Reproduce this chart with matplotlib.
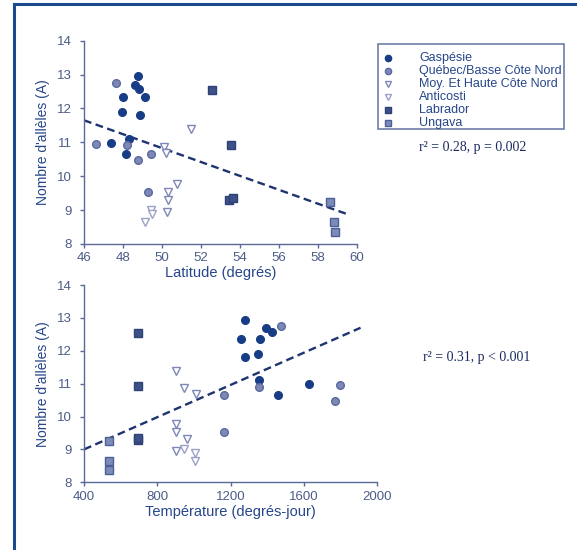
import numpy as np
import matplotlib
matplotlib.use("Agg")
import matplotlib.pyplot as plt
from matplotlib.lines import Line2D
from matplotlib.patches import Rectangle

# Valeurs
gasp_a = [10.98, 12.35, 11.90, 10.65, 11.10, 12.70, 12.95, 12.57, 11.82, 12.35]
gasp_lat = [47.40, 48.00, 47.96, 48.14, 48.33, 48.63, 48.77, 48.84, 48.85, 49.11]
gasp_temp = [1630, 1360, 1350, 1462, 1356, 1393, 1278, 1429, 1278, 1260]

queb_a = [10.95, 12.75, 10.91, 10.47, 10.65, 9.54]
queb_lat = [46.64, 47.64, 48.23, 48.76, 49.41, 49.27]
queb_temp = [1796, 1473, 1356, 1771, 1165, 1165]

moy_a = [11.38, 10.87, 10.70, 9.78, 9.54, 9.31, 8.95]
moy_lat = [51.51, 50.11, 50.19, 50.78, 50.30, 50.30, 50.24]
moy_temp = [900, 945, 1009, 900, 900, 964, 900]

anti_a = [9.00, 8.88, 8.66]
anti_lat = [49.43, 49.47, 49.12]
anti_temp = [945, 1004, 1004]

labr_a = [12.55, 10.92, 9.30, 9.35]
labr_lat = [52.58, 53.54, 53.43, 53.62]
labr_temp = [696, 696, 696, 696]

ung_a = [9.25, 8.66, 8.36]
ung_lat = [58.64, 58.84, 58.88]
ung_temp = [536, 536, 536]

labels = ["Gaspésie", "Québec/Basse Côte Nord", "Moy. Et Haute Côte Nord",
          "Anticosti", "Labrador", "Ungava"]

# droites de régression (pente, ordonnée)
lat_fit = (-0.2052, 21.09)
temp_fit = (0.00245, 8.02)
lat_fit_range = [46, 59.5]
temp_fit_range = [400, 1910]
stats = ["r\u00b2 = 0.28, p = 0.002", "r\u00b2 = 0.31, p < 0.001"]

# styles des populations
styles = [
    dict(marker="o", mfc="#173d86", mec="#173d86"),
    dict(marker="o", mfc="#7d88b4", mec="#5a68a0"),
    dict(marker="v", mfc="white", mec="#7f86b8"),
    dict(marker="v", mfc="white", mec="#9aa0c8"),
    dict(marker="s", mfc="#3d5189", mec="#2e4278"),
    dict(marker="s", mfc="#7c8cb8", mec="#4d5f98"),
]

plt.rcParams["font.family"] = ["Liberation Sans", "DejaVu Sans"]
navy = "#26468a"
tickcol = "#4d5c88"
spinecol = "#5a6a98"
linecol = "#1e3470"

fig = plt.figure(figsize=(5.77, 5.5), dpi=100)
fig.patch.set_facecolor("white")

# cadre (seulement haut et gauche visibles)
fig.add_artist(Line2D([14 / 577, 14 / 577], [0, 1 - 4 / 550], color="#1d4a8e", lw=2.2))
fig.add_artist(Line2D([14 / 577, 1], [1 - 4 / 550, 1 - 4 / 550], color="#1d4a8e", lw=2.2))

ax1 = fig.add_axes([0.1456, 0.5564, 0.4731, 0.3696])
ax2 = fig.add_axes([0.1456, 0.1231, 0.5078, 0.3587])

series_lat = [(gasp_lat, gasp_a), (queb_lat, queb_a), (moy_lat, moy_a),
              (anti_lat, anti_a), (labr_lat, labr_a), (ung_lat, ung_a)]
series_temp = [(gasp_temp, gasp_a), (queb_temp, queb_a), (moy_temp, moy_a),
               (anti_temp, anti_a), (labr_temp, labr_a), (ung_temp, ung_a)]

for ax, series, fit, xr in [(ax1, series_lat, lat_fit, lat_fit_range),
                            (ax2, series_temp, temp_fit, temp_fit_range)]:
    for (x, y), st in zip(series, styles):
        ax.plot(x, y, ls="none", ms=5.5, mew=1.0, zorder=3, **st)
    xx = np.array(xr, float)
    ln, = ax.plot(xx, fit[0] * xx + fit[1], color=linecol, lw=1.7, zorder=1)
    ln.set_dashes([3.3, 1.9])
    ax.set_ylim(8, 14)
    ax.set_yticks(range(8, 15))
    for s in ["top", "right"]:
        ax.spines[s].set_visible(False)
    for s in ["left", "bottom"]:
        ax.spines[s].set_color(spinecol)
        ax.spines[s].set_linewidth(1.0)
    ax.tick_params(direction="out", length=3, width=1.0, color=spinecol,
                   labelcolor=tickcol, labelsize=9.5)
    ax.tick_params(axis="y", pad=6)
    ax.tick_params(axis="x", pad=3)
    ax.set_ylabel("Nombre d'allèles (A)", color=navy, fontsize=10, labelpad=5)
    ax.patch.set_alpha(0)

ax1.set_xlim(46, 60)
ax1.set_xticks(range(46, 61, 2))
ax1.set_xlabel("Latitude (degrés)", color=navy, fontsize=10.5, labelpad=1)

ax2.set_xlim(400, 2000)
ax2.set_xticks(range(400, 2001, 400))
ax2.set_xlabel("Température (degrés-jour)", color=navy, fontsize=10.5, labelpad=2)

# légende dessinée à la main
W, H = 577, 550
fig.add_artist(Rectangle((378 / W, 1 - 129 / H), (564 - 378) / W, 85 / H,
                         transform=fig.transFigure, fill=False,
                         edgecolor="#6f7ea6", lw=1.2))
for i, (lab, st) in enumerate(zip(labels, styles)):
    yy = 1 - (58 + i * 13) / H
    fig.add_artist(Line2D([388 / W], [yy], ls="none", ms=4.5, mew=1.0,
                          transform=fig.transFigure, **st))
    fig.text(419 / W, yy, lab, color=navy, fontsize=9, va="center", ha="left")

fig.text(473 / W, 1 - 148 / H, stats[0], family="Liberation Serif",
         fontsize=10, color="#1b2b5e", ha="center", va="center")
fig.text(477 / W, 1 - 357 / H, stats[1], family="Liberation Serif",
         fontsize=10, color="#1b2b5e", ha="center", va="center")

fig.savefig("out.png", dpi=100, facecolor="white")
